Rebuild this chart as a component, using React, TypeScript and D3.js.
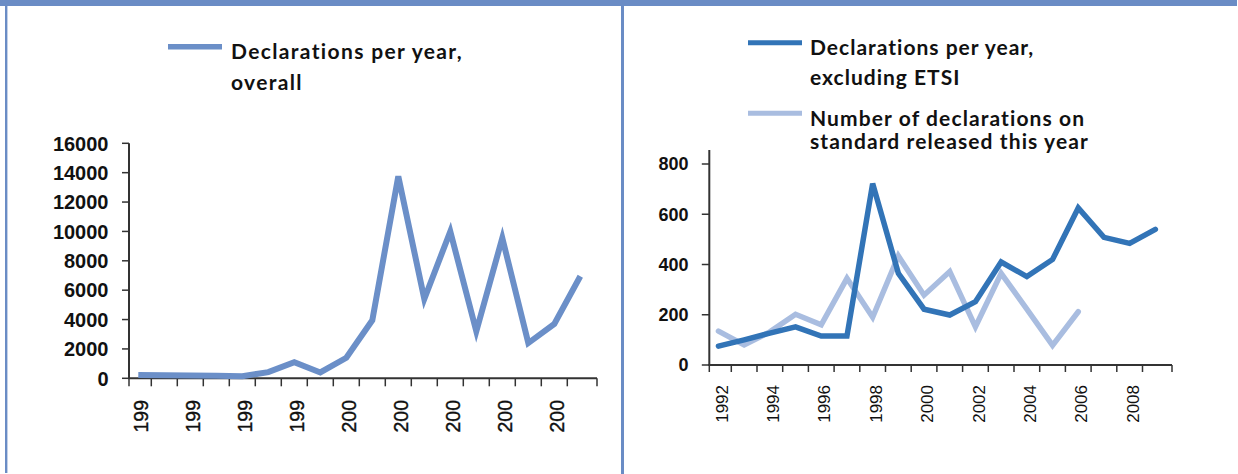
import React from "react";
import * as d3 from "d3";

// ---------- data ----------
const years = [1992, 1993, 1994, 1995, 1996, 1997, 1998, 1999, 2000, 2001, 2002, 2003, 2004, 2005, 2006, 2007, 2008, 2009];
const overall = [230, 210, 190, 170, 140, 420, 1100, 400, 1400, 3950, 13750, 5400, 10000, 3200, 9550, 2400, 3700, 6950];
const exclEtsi = [75, 100, 127, 152, 115, 115, 722, 365, 222, 199, 252, 410, 352, 420, 625, 508, 484, 540];
const releasedYears = [1992, 1993, 1994, 1995, 1996, 1997, 1998, 1999, 2000, 2001, 2002, 2003, 2004, 2005, 2006];
const releasedDecl = [135, 80, 132, 202, 160, 345, 190, 434, 278, 372, 152, 365, 222, 78, 212];

const leftTickYears = [1992, 1994, 1996, 1998, 2000, 2002, 2004, 2006, 2008];
const leftTickLabels = ["199", "199", "199", "199", "200", "200", "200", "200", "200"];
const rightTickYears = [1992, 1994, 1996, 1998, 2000, 2002, 2004, 2006, 2008];
const rightTickLabels = ["1992", "1994", "1996", "1998", "2000", "2002", "2004", "2006", "2008"];

const leftLegend = ["Declarations per year,", "overall"];
const rightLegend1 = ["Declarations per year,", "excluding ETSI"];
const rightLegend2 = ["Number of declarations on", "standard released this year"];

// ---------- styles ----------
const W = 1238;
const H = 474;
const frameBlue = "#6a8cc5";
const lineOverall = "#6b8fc8";
const lineDark = "#3274b7";
const lineLight = "#a9bde0";
const axisColor = "#333333";
const legendFont = "Lato, 'Open Sans', sans-serif";
const axisFont = "'Liberation Sans', Arial, sans-serif";

export default function App() {
  // Left chart scales
  const xL = d3.scaleBand<number>().domain(years).range([125.3, 593.3]);
  const yL = d3.scaleLinear().domain([0, 16000]).range([378.3, 143.3]);
  const axL = { x0: 129, x1: 597 };
  const cxL = (yr: number) => (xL(yr) as number) + xL.bandwidth() / 2;
  const pathL = d3.line<number>().x((_, i) => cxL(years[i])).y((d) => yL(d))(overall) || "";

  // Right chart scales
  const xR = d3.scaleBand<number>().domain(years).range([705.6, 1168.2]);
  const yR = d3.scaleLinear().domain([0, 800]).range([365, 164]);
  const axR = { x0: 709.3, x1: 1172, yTop: 150 };
  const cxR = (yr: number) => (xR(yr) as number) + xR.bandwidth() / 2;
  const pathDark = d3.line<number>().x((_, i) => cxR(years[i])).y((d) => yR(d))(exclEtsi) || "";
  const pathLight = d3.line<number>().x((_, i) => cxR(releasedYears[i])).y((d) => yR(d))(releasedDecl) || "";

  return (
    <svg width={W} height={H} style={{ position: "absolute", left: 0, top: 0, background: "#fff" }}>
      {/* frame */}
      <rect x={0} y={0} width={1237} height={6} fill={frameBlue} />
      <rect x={5} y={6} width={2.4} height={H - 7} fill={frameBlue} />
      <rect x={621} y={6} width={3} height={H - 6} fill={frameBlue} />

      {/* ---------- Left chart ---------- */}
      <g>
        <line x1={axL.x0} x2={axL.x0} y1={yL(16000)} y2={yL(0)} stroke={axisColor} strokeWidth={2} />
        {yL.ticks(8).map((t) => (
          <g key={"ly" + t}>
            <line x1={axL.x0 - 7} x2={axL.x0} y1={yL(t)} y2={yL(t)} stroke={axisColor} strokeWidth={1.5} />
            <text x={108.5} y={yL(t)} dy="0.36em" textAnchor="end" fontFamily={axisFont} fontWeight="bold" fontSize={20} fill="#111">
              {t}
            </text>
          </g>
        ))}
        <line x1={axL.x0 - 1} x2={axL.x1} y1={yL(0)} y2={yL(0)} stroke={axisColor} strokeWidth={2} />
        {[axL.x0, ...years.slice(1).map((yr) => xL(yr) as number), axL.x1].map((x, i) => (
          <line key={"lx" + i} x1={x} x2={x} y1={yL(0)} y2={yL(0) + 8} stroke={axisColor} strokeWidth={1.5} />
        ))}
        {leftTickYears.map((yr, i) => (
          <text
            key={"lxl" + yr}
            transform={`translate(${cxL(yr) + 3},400) rotate(-90)`}
            dy="0.36em"
            textAnchor="end"
            fontFamily={axisFont}
            fontSize={19.5}
            stroke="#111"
            strokeWidth={0.4}
            fill="#111"
          >
            {leftTickLabels[i]}
          </text>
        ))}
        <path d={pathL} fill="none" stroke={lineOverall} strokeWidth={6} strokeLinejoin="miter" />

        {/* legend */}
        <line x1={168} x2={222} y1={46.7} y2={46.7} stroke={lineOverall} strokeWidth={5.5} />
        {leftLegend.map((s, i) => (
          <text key={"ll" + i} x={231} y={59.3 + i * 30.7} fontFamily={legendFont} fontWeight="bold" fontSize={21} letterSpacing={1.35} fill="#111">
            {s}
          </text>
        ))}
      </g>

      {/* ---------- Right chart ---------- */}
      <g>
        <line x1={axR.x0} x2={axR.x0} y1={axR.yTop} y2={yR(0)} stroke={axisColor} strokeWidth={2} />
        {yR.ticks(4).map((t) => (
          <g key={"ry" + t}>
            <line x1={axR.x0 - 7.5} x2={axR.x0} y1={yR(t)} y2={yR(t)} stroke={axisColor} strokeWidth={1.5} />
            <text x={688.5} y={yR(t)} dy="0.36em" textAnchor="end" fontFamily={axisFont} fontWeight="bold" fontSize={18} fill="#111">
              {t}
            </text>
          </g>
        ))}
        <line x1={axR.x0 - 1} x2={axR.x1} y1={yR(0)} y2={yR(0)} stroke={axisColor} strokeWidth={2} />
        {[axR.x0, ...years.slice(1).map((yr) => xR(yr) as number), axR.x1].map((x, i) => (
          <line key={"rx" + i} x1={x} x2={x} y1={yR(0)} y2={yR(0) + 7} stroke={axisColor} strokeWidth={1.5} />
        ))}
        {rightTickYears.map((yr, i) => (
          <text
            key={"rxl" + yr}
            transform={`translate(${cxR(yr) + 3},385) rotate(-90)`}
            dy="0.36em"
            textAnchor="end"
            fontFamily={axisFont}
            fontSize={17}
            fill="#111"
          >
            {rightTickLabels[i]}
          </text>
        ))}
        <path d={pathLight} fill="none" stroke={lineLight} strokeWidth={5.5} strokeLinejoin="miter" strokeLinecap="round" />
        <path d={pathDark} fill="none" stroke={lineDark} strokeWidth={5.5} strokeLinejoin="miter" strokeLinecap="round" />

        {/* legend */}
        <line x1={748} x2={802} y1={42.7} y2={42.7} stroke={lineDark} strokeWidth={5} />
        {rightLegend1.map((s, i) => (
          <text key={"rl1" + i} x={810} y={55 + i * 30} fontFamily={legendFont} fontWeight="bold" fontSize={21} letterSpacing={1.0} fill="#111">
            {s}
          </text>
        ))}
        <line x1={748} x2={802} y1={113.3} y2={113.3} stroke={lineLight} strokeWidth={5} />
        {rightLegend2.map((s, i) => (
          <text key={"rl2" + i} x={810} y={126 + i * 23.3} fontFamily={legendFont} fontWeight="bold" fontSize={21} letterSpacing={1.1} fill="#111">
            {s}
          </text>
        ))}
      </g>
    </svg>
  );
}
